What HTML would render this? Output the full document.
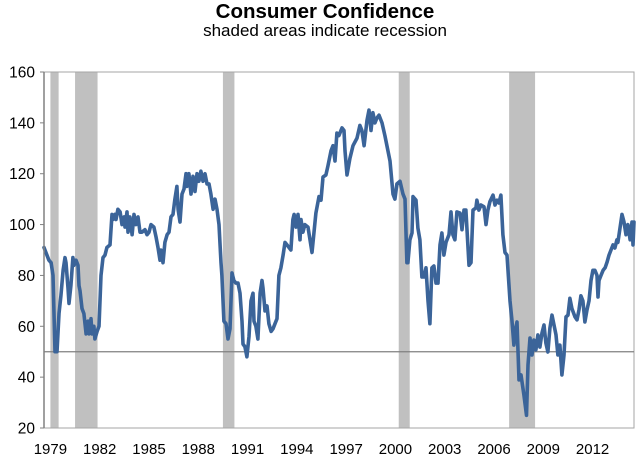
<!DOCTYPE html>
<html><head><meta charset="utf-8">
<style>
html,body{margin:0;padding:0;background:#fff;}
body{width:640px;height:461px;overflow:hidden;font-family:"Liberation Sans",Arial,sans-serif;}
svg text{font-family:"Liberation Sans",Arial,sans-serif;}
</style></head>
<body>
<svg id="chart" width="640" height="461" viewBox="0 0 640 461" xmlns="http://www.w3.org/2000/svg">
<text x="325" y="18" text-anchor="middle" font-size="20.5" font-weight="bold" fill="#000">Consumer Confidence</text>
<text x="325" y="36" text-anchor="middle" font-size="17" fill="#000">shaded areas indicate recession</text>
<g id="recessions"></g>
<g id="grid"></g>
<g id="series"></g>
<g id="yticks"></g>
<g id="xticks"></g>
</svg>
<script>
const years = [1979.61,1979.91,1980.04,1980.16,1980.28,1980.40,1980.52,1980.64,1980.77,1980.89,1980.95,1981.07,1981.13,1981.25,1981.37,1981.44,1981.56,1981.68,1981.74,1981.80,1981.92,1982.04,1982.17,1982.29,1982.35,1982.47,1982.53,1982.65,1982.71,1982.84,1982.96,1983.08,1983.20,1983.32,1983.44,1983.63,1983.75,1983.81,1983.93,1983.99,1984.11,1984.24,1984.36,1984.48,1984.54,1984.66,1984.72,1984.84,1984.97,1985.09,1985.21,1985.33,1985.45,1985.57,1985.76,1985.88,1986.00,1986.12,1986.30,1986.43,1986.55,1986.67,1986.73,1986.85,1986.97,1987.10,1987.22,1987.34,1987.46,1987.58,1987.70,1987.77,1987.89,1988.01,1988.13,1988.25,1988.31,1988.43,1988.56,1988.68,1988.80,1988.92,1989.04,1989.16,1989.29,1989.41,1989.53,1989.65,1989.77,1989.90,1990.02,1990.14,1990.26,1990.38,1990.44,1990.56,1990.69,1990.81,1990.93,1991.05,1991.17,1991.29,1991.42,1991.54,1991.66,1991.72,1991.84,1991.96,1992.09,1992.21,1992.33,1992.39,1992.51,1992.63,1992.76,1992.88,1992.94,1993.06,1993.18,1993.30,1993.43,1993.55,1993.67,1993.79,1993.91,1994.03,1994.16,1994.28,1994.40,1994.52,1994.64,1994.76,1994.83,1994.95,1995.07,1995.19,1995.25,1995.37,1995.49,1995.68,1995.92,1996.16,1996.35,1996.47,1996.59,1996.77,1996.89,1997.08,1997.20,1997.32,1997.44,1997.56,1997.75,1997.87,1997.93,1998.05,1998.23,1998.42,1998.66,1998.84,1998.96,1999.09,1999.27,1999.39,1999.51,1999.63,1999.75,1999.88,2000.00,2000.18,2000.36,2000.67,2000.85,2000.97,2001.09,2001.28,2001.46,2001.58,2001.70,2001.76,2001.88,2002.01,2002.07,2002.25,2002.37,2002.49,2002.61,2002.74,2002.86,2002.98,2003.10,2003.22,2003.34,2003.47,2003.59,2003.71,2003.83,2003.95,2004.08,2004.26,2004.38,2004.50,2004.62,2004.74,2004.93,2005.05,2005.17,2005.29,2005.48,2005.60,2005.72,2005.90,2005.96,2006.08,2006.21,2006.39,2006.51,2006.63,2006.75,2006.94,2007.06,2007.18,2007.30,2007.42,2007.54,2007.67,2007.79,2007.97,2008.09,2008.21,2008.34,2008.40,2008.52,2008.64,2008.82,2008.98,2009.07,2009.19,2009.31,2009.43,2009.55,2009.67,2009.79,2009.92,2010.04,2010.16,2010.28,2010.40,2010.53,2010.65,2010.77,2010.89,2011.01,2011.13,2011.26,2011.38,2011.50,2011.62,2011.74,2011.93,2012.05,2012.17,2012.29,2012.41,2012.53,2012.66,2012.78,2012.90,2013.02,2013.14,2013.27,2013.33,2013.39,2013.51,2013.64,2013.76,2013.88,2014.00,2014.12,2014.24,2014.36,2014.48,2014.54,2014.79,2014.91,2015.03,2015.15,2015.28,2015.40,2015.46,2015.52];
const values = [91,86,85,80,50,50,65,72,82,87,85,75,69,76,87,84,86,84,76,74,67,65,57,62,57,63,57,60,55,58,60,80,87,88,91,92,104,102,104,102,106,105,100,103,99,105,97,103,96,104,100,103,97,97,98,96,97,100,99,95,91,86,90,85,93,96,97,103,104,110,115,106,101,112,114,120,115,120,112,119,113,120,117,121,117,120,116,116,112,106,110,106,100,85,80,62,61,55,59,81,78,77,77,73,62,53,52,48,56,70,73,62,60,55,73,78,75,66,68,61,58,59,61,63,80,83,88,93,92,91,90,102,104,99,104,94,102,97,100,99,89,104.5,111,109.6,118.7,119.5,123,129,131,125,136,135,138,137,129,119.5,126,131,134,139,137,131,141,145,137,144,140,142,143,140,135,125,112,110,116,117,112,110,85,85,94,96.7,111,109.6,98.6,94,79.4,79.4,83,70,61,83,83.7,77,77,92,96.7,88,93,96,105,96,94,105,104.5,98,105.7,105.7,84,85,105.7,106.5,109.6,105.7,107.7,107,100,105.7,109,111.6,107.7,109.6,108.5,111.6,96,89,88,70,62.5,52.6,59.7,61.7,38.9,40.9,33,25,44.8,55.4,48.7,54.6,50.7,56.6,51.8,57.4,60.5,53.4,49.9,59.3,64.4,60.5,56.6,48.7,52.6,40.9,48.7,63.7,64.4,71,67,63.7,62.5,66.5,72,70,61.7,66.5,70,78,82,82,80,71.5,78,80,82,83,85.3,88,90,92,90.8,94,93,104,101,96,100,94,101,92,101];
const recessionStarts = [1980.0, 1981.5, 1990.5, 2001.2, 2007.92];
const recessionEnds = [1980.5, 1982.87, 1991.2, 2001.87, 2009.5];
const yTicks = [20,40,60,80,100,120,140,160];
const xTickLabels = ["1979","1982","1985","1988","1991","1994","1997","2000","2003","2006","2009","2012"];
const refLevel = [50];

const NS="http://www.w3.org/2000/svg";
const L=44,R=634,T=72,B=428;
const T0=1979.61, PXY=16.43;
const xs=t=>L+(t-T0)*PXY;
const ys=v=>B-(v-20)*(B-T)/140;
function mk(tag,attrs,parent){const e=document.createElementNS(NS,tag);for(const k in attrs)e.setAttribute(k,attrs[k]);parent.appendChild(e);return e;}

const rg=document.getElementById('recessions');
recessionStarts.forEach((s,i)=>{
  const r=mk('rect',{x:xs(s),y:T,width:xs(recessionEnds[i])-xs(s),height:B-T,fill:'#c0c0c0'},rg);
  
  
});

const gg=document.getElementById('grid');
const fr=mk('rect',{x:L,y:T,width:R-L,height:B-T,fill:'none',stroke:'#a6a6a6','stroke-width':1},gg);


refLevel.forEach(v=>{
  const ln=mk('line',{x1:L,x2:R,y1:ys(v),y2:ys(v),stroke:'#808080','stroke-width':1.2},gg);
  
  
});

const sg=document.getElementById('series');
let d='';
years.forEach((t,i)=>{d+=(i?'L':'M')+xs(t).toFixed(1)+','+ys(values[i]).toFixed(1);});
const p=mk('path',{d:d,fill:'none',stroke:'#3b6499','stroke-width':3.6,'stroke-linejoin':'round','stroke-linecap':'round'},sg);



const yg=document.getElementById('yticks');
mk('line',{x1:L,x2:L,y1:T,y2:B,stroke:'#808080','stroke-width':1.5},yg);
yTicks.forEach(v=>{
  mk('line',{x1:L-4,x2:L,y1:ys(v),y2:ys(v),stroke:'#808080','stroke-width':1},yg);
  const tx=mk('text',{x:35,y:ys(v)+5.5,'text-anchor':'end','font-size':15.5,fill:'#000'},yg);
  tx.textContent=v;
  
  
});

const xg=document.getElementById('xticks');
xTickLabels.forEach(lbl=>{
  const tx=mk('text',{x:xs(+lbl+1),y:454,'text-anchor':'middle','font-size':15,fill:'#000'},xg);
  tx.textContent=lbl;
  
  
});
</script>
</body></html>
